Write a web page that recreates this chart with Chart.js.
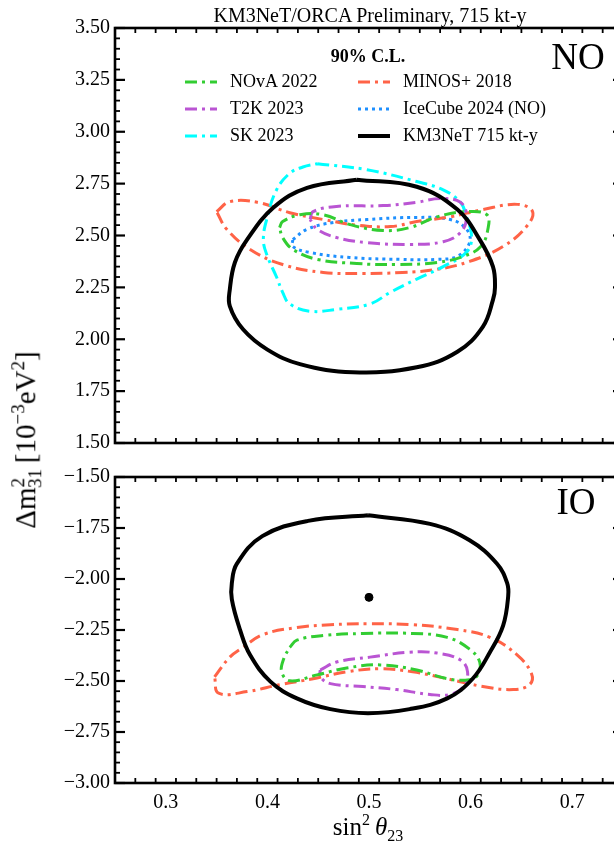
<!DOCTYPE html>
<html>
<head>
<meta charset="utf-8">
<script src="https://cdn.jsdelivr.net/npm/chart.js@4.4.1/dist/chart.umd.min.js"></script>
<style>
  html, body { margin: 0; padding: 0; background: #fff; overflow: hidden; }
  body { width: 614px; height: 845px; position: relative; font-family: 'Liberation Serif', serif; color: #000; }
  canvas { position: absolute; left: 0; }
  #c-no { top: 0; }
  #c-io { top: 460px; }
  .lbl { position: absolute; white-space: nowrap; transform: translate(-50%, -50%); }
  .leg { position: absolute; font-size: 18px; white-space: nowrap; }
  .leg svg { position: absolute; left: 0; top: 0; }
  .leg span { position: absolute; left: 45px; top: -11px; }
</style>
</head>
<body>
<canvas id="c-no" width="640" height="460"></canvas>
<canvas id="c-io" width="640" height="385"></canvas>

<div class="lbl" style="left:370px; top:15px; font-size:20px;">KM3NeT/ORCA Preliminary, 715 kt-y</div>
<div class="lbl" style="left:578px; top:56px; font-size:37px;">NO</div>
<div class="lbl" style="left:576px; top:501px; font-size:37px;">IO</div>
<div class="lbl" style="left:368px; top:828px; font-size:25px;">sin<sup style="font-size:16px;">2</sup>&thinsp;<i>θ</i><sub style="font-size:16px;">23</sub></div>
<div class="lbl" style="left:27px; top:440px; font-size:29px; transform: translate(-50%, -50%) rotate(-90deg);">Δm<sup style="font-size:19px;">2</sup><sub style="font-size:19px; margin-left:-10px;">31</sub>&thinsp;[10<sup style="font-size:19px;">−3</sup>eV<sup style="font-size:19px;">2</sup>]</div>
<div class="lbl" style="left:368px; top:56px; font-size:18px; font-weight:bold;">90% C.L.</div>
<div id="legend"></div>

<script>
// axis ranges and ticks
const xRange = [0.25, 0.75];
const xTicks = [0.3, 0.4, 0.5, 0.6, 0.7];
const yRangeNO = [1.5, 3.5];
const yTicksNO = [1.5, 1.75, 2.0, 2.25, 2.5, 2.75, 3.0, 3.25, 3.5];
const yRangeIO = [-3.0, -1.5];
const yTicksIO = [-3.0, -2.75, -2.5, -2.25, -2.0, -1.75, -1.5];

// --- NO contours (sin2 theta23, dm2_31 in 1e-3 eV2) ---
const noNovaX = [0.412, 0.415, 0.432, 0.455, 0.481, 0.514, 0.540, 0.567, 0.596, 0.616, 0.617, 0.610, 0.593, 0.567, 0.527, 0.488, 0.449, 0.425, 0.415];
const noNovaY = [2.538, 2.567, 2.600, 2.600, 2.553, 2.524, 2.538, 2.590, 2.615, 2.600, 2.530, 2.447, 2.400, 2.370, 2.360, 2.365, 2.385, 2.433, 2.490];
const noT2kX = [0.442, 0.445, 0.468, 0.514, 0.547, 0.570, 0.590, 0.596, 0.590, 0.573, 0.540, 0.498, 0.468, 0.449];
const noT2kY = [2.577, 2.615, 2.640, 2.644, 2.660, 2.678, 2.660, 2.590, 2.514, 2.470, 2.457, 2.466, 2.490, 2.530];
const noSkX = [0.449, 0.498, 0.547, 0.573, 0.590, 0.596, 0.601, 0.596, 0.573, 0.547, 0.521, 0.501, 0.468, 0.442, 0.422, 0.415, 0.409, 0.400, 0.396, 0.400, 0.409, 0.422, 0.435];
const noSkY = [2.846, 2.817, 2.760, 2.720, 2.660, 2.590, 2.495, 2.420, 2.350, 2.290, 2.226, 2.170, 2.144, 2.135, 2.170, 2.226, 2.300, 2.400, 2.480, 2.590, 2.720, 2.800, 2.830];
const noMinosX = [0.350, 0.363, 0.390, 0.422, 0.455, 0.488, 0.521, 0.547, 0.580, 0.612, 0.646, 0.661, 0.655, 0.632, 0.599, 0.567, 0.533, 0.494, 0.455, 0.415, 0.383, 0.360];
const noMinosY = [2.615, 2.663, 2.660, 2.610, 2.577, 2.550, 2.543, 2.567, 2.590, 2.625, 2.650, 2.615, 2.543, 2.447, 2.375, 2.337, 2.322, 2.317, 2.322, 2.360, 2.433, 2.530];
const noIceX = [0.425, 0.439, 0.465, 0.498, 0.547, 0.580, 0.596, 0.599, 0.587, 0.567, 0.530, 0.481, 0.442, 0.425];
const noIceY = [2.480, 2.530, 2.563, 2.577, 2.587, 2.577, 2.530, 2.466, 2.400, 2.385, 2.385, 2.394, 2.418, 2.447];
const noKm3X = [0.488, 0.547, 0.587, 0.609, 0.622, 0.624, 0.622, 0.612, 0.587, 0.547, 0.484, 0.432, 0.400, 0.376, 0.363, 0.363, 0.368, 0.380, 0.406, 0.439];
const noKm3Y = [2.769, 2.735, 2.625, 2.480, 2.350, 2.250, 2.190, 2.060, 1.940, 1.865, 1.841, 1.880, 1.950, 2.048, 2.160, 2.240, 2.370, 2.480, 2.635, 2.730];

// --- IO contours ---
const ioNovaX = [0.422, 0.429, 0.455, 0.494, 0.543, 0.577, 0.599, 0.609, 0.607, 0.599, 0.577, 0.547, 0.511, 0.478, 0.449, 0.422, 0.414, 0.416];
const ioNovaY = [-2.335, -2.300, -2.277, -2.267, -2.267, -2.286, -2.344, -2.407, -2.470, -2.494, -2.489, -2.446, -2.421, -2.436, -2.470, -2.499, -2.455, -2.392];
const ioT2kX = [0.452, 0.468, 0.501, 0.540, 0.567, 0.590, 0.597, 0.593, 0.580, 0.560, 0.527, 0.494, 0.462, 0.452];
const ioT2kY = [-2.446, -2.407, -2.383, -2.359, -2.363, -2.397, -2.455, -2.527, -2.566, -2.566, -2.542, -2.527, -2.513, -2.479];
const ioMinosX = [0.348, 0.363, 0.376, 0.396, 0.429, 0.462, 0.501, 0.543, 0.587, 0.619, 0.646, 0.660, 0.658, 0.642, 0.612, 0.577, 0.543, 0.511, 0.478, 0.445, 0.412, 0.380, 0.352];
const ioMinosY = [-2.480, -2.383, -2.335, -2.272, -2.238, -2.224, -2.219, -2.224, -2.248, -2.286, -2.373, -2.465, -2.518, -2.542, -2.527, -2.489, -2.455, -2.440, -2.455, -2.489, -2.518, -2.552, -2.560];
const ioKm3X = [0.499, 0.560, 0.599, 0.626, 0.636, 0.637, 0.632, 0.619, 0.602, 0.577, 0.540, 0.499, 0.462, 0.429, 0.403, 0.383, 0.373, 0.365, 0.365, 0.370, 0.395, 0.440];
const ioKm3Y = [-1.688, -1.730, -1.810, -1.925, -2.020, -2.084, -2.228, -2.359, -2.489, -2.585, -2.638, -2.658, -2.638, -2.585, -2.503, -2.373, -2.248, -2.100, -2.020, -1.925, -1.790, -1.715];
const ioBestX = [0.5];
const ioBestY = [-2.09];

// styles per experiment
const styles = {
    nova:  { label: 'NOvA 2022', color: '#32cd32', dash: [12, 5, 3, 5], width: 3 },
    t2k:   { label: 'T2K 2023', color: '#ba55d3', dash: [12, 5, 3, 5], width: 3 },
    sk:    { label: 'SK 2023', color: '#00ffff', dash: [12, 5, 3, 5], width: 3 },
    minos: { label: 'MINOS+ 2018', color: '#ff6347', dash: [12, 5, 3, 5], width: 3 },
    ice:   { label: 'IceCube 2024 (NO)', color: '#1e90ff', dash: [3, 4], width: 3 },
    km3:   { label: 'KM3NeT 715 kt-y', color: '#000000', dash: [], width: 4 }
};

function loop(xs, ys) {
    const pts = xs.map((x, i) => ({ x: x, y: ys[i] }));
    pts.push({ x: xs[0], y: ys[0] });
    return pts;
}

function contour(key, xs, ys) {
    const s = styles[key];
    return {
        label: s.label, data: loop(xs, ys), showLine: true, fill: false,
        borderColor: s.color, borderWidth: s.width, borderDash: s.dash,
        pointRadius: 0, tension: 0.4, borderCapStyle: 'butt'
    };
}

const fmtY = v => v.toFixed(2).replace('-', '\u2212');

// frame + inward major/minor ticks on all four sides
const framePlugin = {
    id: 'frame',
    afterDatasetsDraw(chart) {
        const { ctx, chartArea: a, scales } = chart;
        const xs = scales.x, ys = scales.y;
        ctx.save();
        ctx.strokeStyle = '#000';
        ctx.lineCap = 'butt';
        const tick = (x1, y1, x2, y2, w) => {
            ctx.lineWidth = w;
            ctx.beginPath(); ctx.moveTo(x1, y1); ctx.lineTo(x2, y2); ctx.stroke();
        };
        for (let i = 0; i <= 25; i++) {
            const v = xs.min + i * 0.02;
            const px = xs.getPixelForValue(v);
            const major = Math.abs((v * 10) - Math.round(v * 10)) < 1e-6;
            const len = major ? 10 : 5;
            const w = major ? 2.2 : 1.8;
            tick(px, a.top, px, a.top + len, w);
            tick(px, a.bottom, px, a.bottom - len, w);
        }
        const nMinor = Math.round((ys.max - ys.min) / 0.05);
        for (let i = 0; i <= nMinor; i++) {
            const v = ys.min + i * 0.05;
            const py = ys.getPixelForValue(v);
            const major = i % 5 === 0;
            const len = major ? 10 : 5;
            const w = major ? 2.2 : 1.8;
            tick(a.left, py, a.left + len, py, w);
            tick(a.right, py, a.right - len, py, w);
        }
        ctx.lineWidth = 2.6;
        ctx.strokeRect(a.left, a.top, a.right - a.left, a.bottom - a.top);
        ctx.restore();
    }
};

Chart.defaults.font.family = "'Liberation Serif', serif";
Chart.defaults.color = '#000';

function makePanel(id, datasets, yRange, yTicks, padTop, xHeight, showX) {
    return new Chart(document.getElementById(id), {
        type: 'scatter',
        data: { datasets: datasets },
        options: {
            responsive: false, animation: false, clip: false,
            layout: { padding: { top: padTop, right: 17, left: 0, bottom: 0 } },
            plugins: { legend: { display: false }, tooltip: { enabled: false } },
            scales: {
                x: {
                    type: 'linear', min: xRange[0], max: xRange[1],
                    afterBuildTicks: s => { s.ticks = xTicks.map(v => ({ value: v })); },
                    ticks: { display: showX, font: { size: 20 }, color: '#000', padding: 8, maxRotation: 0, callback: v => v.toFixed(1) },
                    grid: { display: false, drawTicks: false }, border: { display: false },
                    afterFit: s => { s.height = xHeight; }
                },
                y: {
                    type: 'linear', min: yRange[0], max: yRange[1],
                    afterBuildTicks: s => { s.ticks = yTicks.map(v => ({ value: v })); },
                    ticks: { font: { size: 20 }, color: '#000', padding: 5, callback: fmtY },
                    grid: { display: false, drawTicks: false }, border: { display: false },
                    afterFit: s => { s.width = 115; }
                }
            }
        },
        plugins: [framePlugin]
    });
}

makePanel('c-no', [
    contour('km3', noKm3X, noKm3Y),
    contour('nova', noNovaX, noNovaY),
    contour('t2k', noT2kX, noT2kY),
    contour('sk', noSkX, noSkY),
    contour('minos', noMinosX, noMinosY),
    contour('ice', noIceX, noIceY)
], yRangeNO, yTicksNO, 28, 16, false);

makePanel('c-io', [
    { label: 'best fit', data: ioBestX.map((x, i) => ({ x: x, y: ioBestY[i] })), pointRadius: 4, backgroundColor: '#000', borderColor: '#000', showLine: false },
    contour('km3', ioKm3X, ioKm3Y),
    contour('nova', ioNovaX, ioNovaY),
    contour('t2k', ioT2kX, ioT2kY),
    contour('minos', ioMinosX, ioMinosY)
], yRangeIO, yTicksIO, 12, 62, true);

// legend, two columns
const legendCols = [['nova', 't2k', 'sk'], ['minos', 'ice', 'km3']];
const legendColX = [185, 358];
const legendRowY = [82, 109, 136];
const legendEl = document.getElementById('legend');
legendCols.forEach((col, ci) => {
    col.forEach((key, ri) => {
        const s = styles[key];
        const d = document.createElement('div');
        d.className = 'leg';
        d.style.left = legendColX[ci] + 'px';
        d.style.top = legendRowY[ri] + 'px';
        const dash = s.dash.length ? `stroke-dasharray="${s.dash.join(' ')}"` : '';
        d.innerHTML = `<svg width="32" height="8" style="top:-4px"><line x1="0" y1="4" x2="32" y2="4" stroke="${s.color}" stroke-width="${s.width}" ${dash}/></svg><span>${s.label}</span>`;
        legendEl.appendChild(d);
    });
});
</script>
</body>
</html>
